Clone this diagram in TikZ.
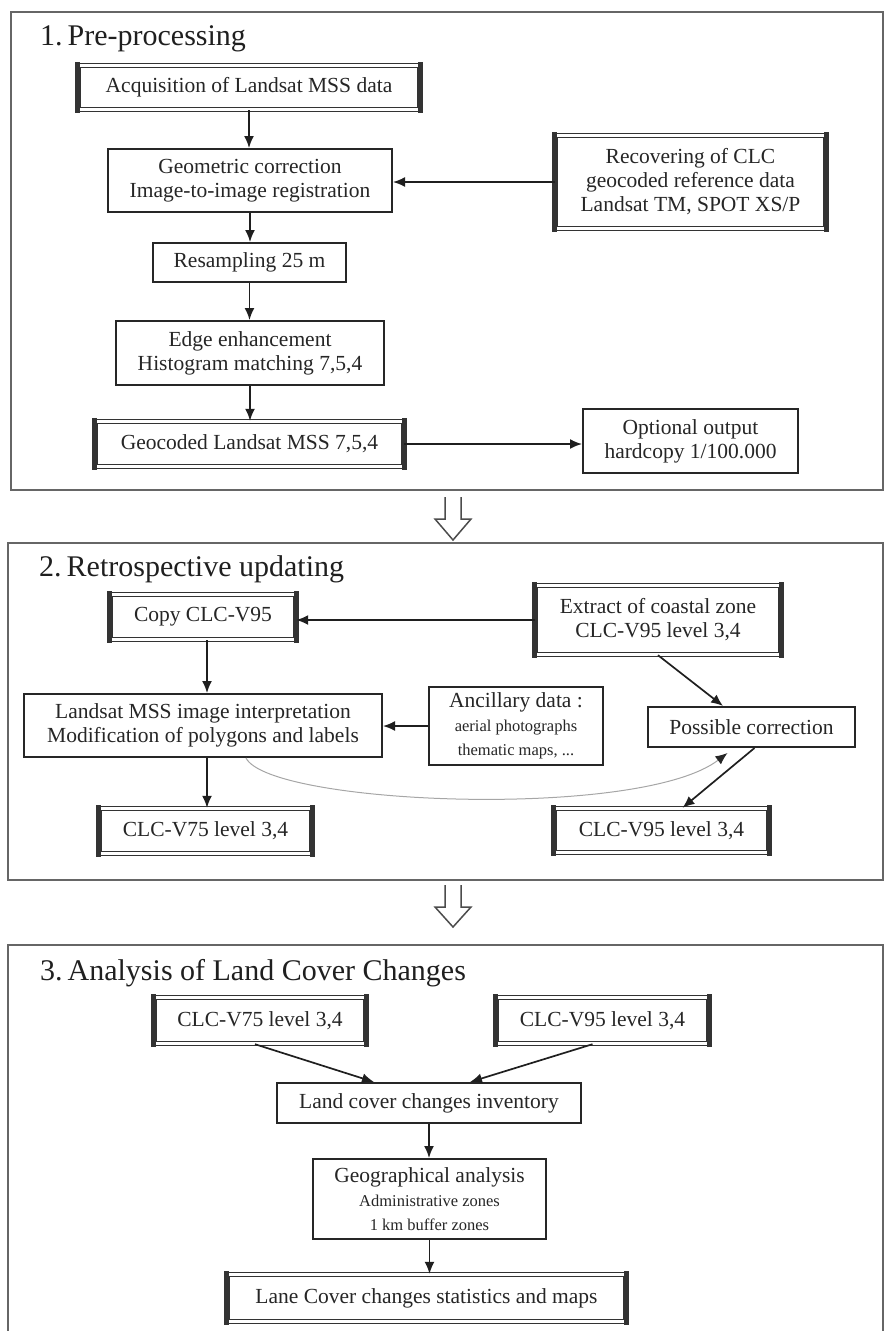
\documentclass[tikz,border=0pt]{standalone}
\usepackage{fontspec}
\setmainfont{Liberation Serif}
\usetikzlibrary{arrows.meta,calc}
\newcommand\boxfont{\fontsize{21.5}{24}\selectfont}
\newcommand\smallf{\fontsize{16.5}{19}\selectfont}
\newcommand\titlefont{\fontsize{30}{36}\selectfont}
\newcommand\dbars[1]{%
  \fill[black!80] ([shift={(-2.4,-2.4)}]#1.north west) rectangle ([shift={(2.4,2.4)}]#1.south west);
  \fill[black!80] ([shift={(-2.4,-2.4)}]#1.north east) rectangle ([shift={(2.4,2.4)}]#1.south east);}
\tikzset{
  pbox/.style={draw=black!85, line width=1.8pt, fill=white, align=center, inner sep=0pt, font=\boxfont, text=black!85},
  dbox/.style={draw=black!80, double=white, double distance=2.4pt, line width=1.2pt, fill=white, align=center, inner sep=0pt, font=\boxfont, text=black!85},
  frame/.style={draw=black!60, line width=1.8pt},
  titletext/.style={font=\titlefont, text=black!88, inner sep=0pt, anchor=base west},
  conn/.style={draw=black!88, line width=1.7pt, -{Latex[length=12pt,width=10pt]}},
  curveconn/.style={draw=black!35, line width=1pt, -{Latex[length=12pt,width=10pt,black!85]}},
  hollow/.style={draw=black!70, line width=1.5pt, line join=miter}
}
\begin{document}
\begin{tikzpicture}[x=1pt,y=-1pt]
\useasboundingbox (0,0) rectangle (889,1331);
% section frames
\node[frame, minimum width=872pt, minimum height=478pt] (sec1) at (447,251) {};
\node[frame, minimum width=875pt, minimum height=337pt] (sec2) at (445.5,711.5) {};
\coordinate (s3bl) at (8,1335);
\coordinate (s3br) at (883,1335);
\draw[frame] (s3bl) -- (8,945) -- (883,945) -- (s3br);
% titles
\node[titletext] (t1) at (40,45) {1.\,Pre-processing};
\node[titletext] (t2) at (39,576) {2.\,Retrospective updating};
\node[titletext] (t3) at (40,980) {3.\,Analysis of Land Cover Changes};
% section 1
\node[dbox, minimum width=341.2pt, minimum height=44.2pt] (acq) at (249,87.5) {Acquisition of Landsat MSS data};
\node[pbox, minimum width=284.2pt, minimum height=63.2pt] (geo) at (250,180.5) {Geometric correction\\Image-to-image registration};
\node[dbox, minimum width=270.2pt, minimum height=93.2pt] (rec) at (690.5,182) {Recovering of CLC\\geocoded reference data\\Landsat TM, SPOT XS/P};
\node[pbox, minimum width=193.2pt, minimum height=39.2pt] (res) at (249.5,262.5) {Resampling 25 m};
\node[pbox, minimum width=268.2pt, minimum height=64.2pt] (edge) at (250,353) {Edge enhancement\\Histogram matching 7,5,4};
\node[dbox, minimum width=308.2pt, minimum height=45.2pt] (gc) at (249.5,444) {Geocoded Landsat MSS 7,5,4};
\node[pbox, minimum width=215.2pt, minimum height=64.2pt] (opt) at (690.5,441) {Optional output\\hardcopy 1/100.000};
\dbars{acq}\dbars{rec}\dbars{gc}
\draw[conn] (acq.south) -- (acq.south |- geo.north);
\draw[conn] (rec.west) -- (rec.west -| geo.east);
\draw[conn] (geo.south) -- (geo.south |- res.north);
\draw[conn] (res.south) -- (res.south |- edge.north);
\draw[conn] (edge.south) -- (edge.south |- gc.north);
\draw[conn] (gc.east) -- (gc.east -| opt.west);
% hollow arrow 1
\coordinate (ha1) at (453,497);
\draw[hollow] ($(ha1)+(-8,0)$) -- ++(0,22) -- ++(-10,0) -- ($(ha1)+(0,43)$) -- ($(ha1)+(18,22)$) -- ++(-10,0) -- ++(0,-22);
% section 2
\node[dbox, minimum width=185.2pt, minimum height=45.2pt] (copy) at (203,617) {Copy CLC-V95};
\node[dbox, minimum width=245.2pt, minimum height=69.2pt] (ext) at (658,620) {Extract of coastal zone\\CLC-V95 level 3,4};
\node[pbox, minimum width=358.2pt, minimum height=63.2pt] (lmss) at (203,725.5) {Landsat MSS image interpretation\\Modification of polygons and labels};
\node[pbox, minimum width=174.2pt, minimum height=78.2pt] (anc) at (516,726) {Ancillary data :\\\smallf aerial photographs\\\smallf thematic maps, ...};
\node[pbox, minimum width=207.2pt, minimum height=40.2pt] (pc) at (751.5,727) {Possible correction};
\node[dbox, minimum width=212.2pt, minimum height=45.2pt] (v75b) at (205.5,831) {CLC-V75 level 3,4};
\node[dbox, minimum width=214.2pt, minimum height=44.2pt] (v95b) at (661.5,830.5) {CLC-V95 level 3,4};
\dbars{copy}\dbars{ext}\dbars{v75b}\dbars{v95b}
\draw[conn] (ext.west) -- (ext.west -| copy.east);
\draw[conn] ([xshift=4pt]copy.south) -- ([xshift=4pt]copy.south |- lmss.north);
\draw[conn] (anc.west) -- (anc.west -| lmss.east);
\draw[conn] ([xshift=4pt]lmss.south) -- ([xshift=4pt]lmss.south |- v75b.north);
\draw[conn] (ext.south) -- ($(pc.north west)!0.364!(pc.north east)$);
\draw[conn] ([xshift=3pt]pc.south) -- ([xshift=21pt]v95b.north);
\draw[curveconn] ([xshift=43pt]lmss.south) .. controls (270,805) and (640,820) .. ([xshift=-24pt,yshift=-5pt]pc.south);
% hollow arrow 2
\coordinate (ha2) at (453,885);
\draw[hollow] ($(ha2)+(-8,0)$) -- ++(0,22) -- ++(-10,0) -- ($(ha2)+(0,42)$) -- ($(ha2)+(18,22)$) -- ++(-10,0) -- ++(0,-22);
% section 3
\node[dbox, minimum width=211.2pt, minimum height=46.2pt] (v75c) at (260,1020.5) {CLC-V75 level 3,4};
\node[dbox, minimum width=212.2pt, minimum height=46.2pt] (v95c) at (602.5,1020.5) {CLC-V95 level 3,4};
\node[pbox, minimum width=304.2pt, minimum height=40.2pt] (lci) at (429,1103) {Land cover changes inventory};
\node[pbox, minimum width=233.2pt, minimum height=80.2pt] (geoa) at (429.5,1199) {Geographical analysis\\\smallf Administrative zones\\\smallf 1 km buffer zones};
\node[dbox, minimum width=398.2pt, minimum height=47.2pt] (lcs) at (426.5,1298) {Lane Cover changes statistics and maps};
\dbars{v75c}\dbars{v95c}\dbars{lcs}
\draw[conn] ([xshift=-5pt]v75c.south) -- ([xshift=-55pt]lci.north);
\draw[conn] ([xshift=-10pt]v95c.south) -- ([xshift=41pt]lci.north);
\draw[conn] (lci.south) -- (lci.south |- geoa.north);
\draw[conn] (geoa.south) -- (geoa.south |- lcs.north);
\end{tikzpicture}
\end{document}
